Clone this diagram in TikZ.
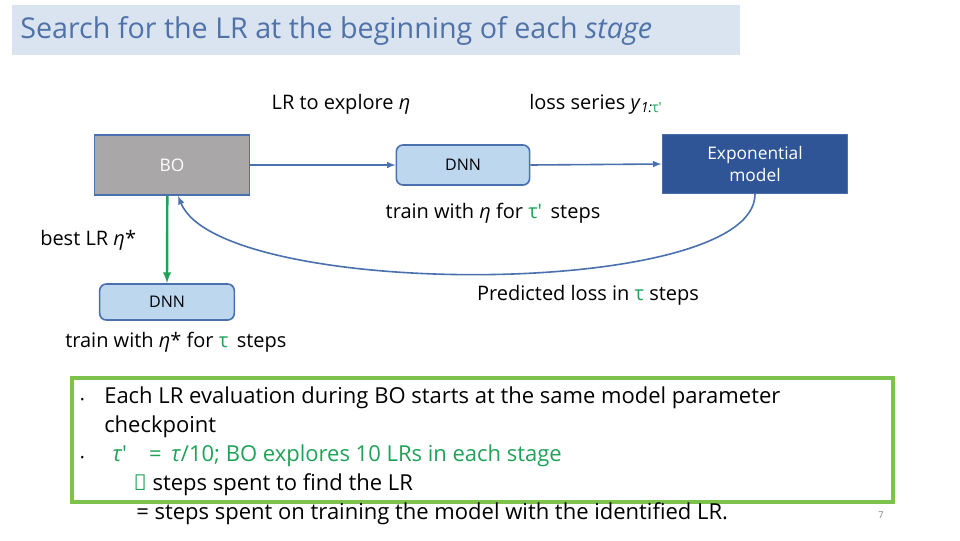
\documentclass[tikz,border=0pt]{standalone}
\usepackage{fontspec}
\setmainfont{Open Sans}
\usepackage{xcolor}
\definecolor{edgeblue}{HTML}{4A70AE}
\definecolor{dnnfill}{HTML}{BDD7EE}
\definecolor{expfill}{HTML}{2F5597}
\definecolor{titlefill}{HTML}{DAE3F0}
\definecolor{titletext}{HTML}{4F72A8}
\definecolor{tgreen}{HTML}{1FA257}
\definecolor{boxgreen}{HTML}{7DC24B}
\definecolor{bogray}{HTML}{A9A7A7}
\tikzset{
  bw/.initial=10pt, bh/.initial=10pt,
  blk/.style={draw=edgeblue,line width=1.2pt,minimum width=\pgfkeysvalueof{/tikz/bw},minimum height=\pgfkeysvalueof{/tikz/bh},inner sep=0pt},
  dnn/.style={blk,fill=dnnfill,rounded corners=5pt,font=\fontsize{12}{12}\selectfont},
  conn/.style={draw=edgeblue,line width=1.2pt,-latex},
  lbl/.style={font=\fontsize{15}{15}\selectfont,inner sep=0pt}
}
\newcommand{\eeta}{\textit{η}}
\newcommand{\ttau}{\textcolor{tgreen}{τ}}
\begin{document}
\begin{tikzpicture}[x=0.75pt,y=-0.75pt]
		\useasboundingbox (0,0) rectangle (960,540);
		% title
		\fill[titlefill] (12,5) rectangle (740,55);
		\node[anchor=west,inner sep=0pt,text=titletext,font=\fontsize{21.5}{21.5}\selectfont] (title) at (20,31) {Search for the LR at the beginning of each \textit{stage}};
		
		% blocks
		\node[blk,fill=bogray,bw=116pt,bh=45pt,text=white,font=\fontsize{13}{13}\selectfont] (bo) at (172,165) {BO};
		\node[dnn,bw=100pt,bh=30pt] (dnnA) at (463,165) {DNN};
		\node[blk,fill=expfill,bw=139pt,bh=44pt,text=white,align=center,font=\fontsize{13}{16}\selectfont] (expm) at (755,164) {Exponential\\model};
		\node[dnn,bw=101pt,bh=27pt] (dnnB) at (167,302) {DNN};
		
		\draw[conn] (bo.east) -- (dnnA.west);
		\draw[conn] (dnnA.east) -- (expm.west);
		\draw[conn] (expm.south) .. controls (755,300) and (220,300) .. ([xshift=4.5pt]bo.south);
		\draw[tgreen,line width=1.8pt,-latex] ([xshift=-3.5pt]bo.south) -- (dnnB.north);
		
		% labels
		\node[lbl] (lexp) at (341,104) {LR to explore \eeta};
		\node[lbl,anchor=west] (lloss) at (529,104) {loss series \textit{y}\textsubscript{\textit{1:}\ttau\textcolor{tgreen}{′}}};
		\node[lbl] (ltrainA) at (493,213) {train with \eeta\ for \ttau\textcolor{tgreen}{′}\ \,steps};
		\node[lbl,anchor=west] (lbest) at (40,240) {best LR \eeta*};
		\node[lbl] (lpred) at (588,295) {Predicted loss in \ttau\ steps};
		\node[lbl,anchor=west] (ltrainB) at (65,342) {train with \eeta* for \ttau\ \,steps};
		
		% note box
		\draw[boxgreen,line width=2.5pt] (72,378) rectangle (893,502);
		\node[anchor=north west,inner sep=0pt,align=left,font=\fontsize{16.5}{21.75}\selectfont] (notes) at (80,387) {%
			\makebox[18pt][l]{\footnotesize\textbullet}Each LR evaluation during BO starts at the same model parameter\\
			\hspace*{18pt}checkpoint\\
			\makebox[18pt][l]{\footnotesize\textbullet}\textcolor{tgreen}{\hspace*{6pt}\textit{τ}′\quad=\, \textit{τ}/10; BO explores 10 LRs in each stage}\\
			\hspace*{40pt}\textcolor{tgreen}{→} steps spent to find the LR\\
			\hspace*{42pt}= steps spent on training the model with the identified LR.};
		\node[text=gray,font=\fontsize{7}{7}\selectfont] (pnum) at (881,515) {7};
	\end{tikzpicture}
\end{document}
